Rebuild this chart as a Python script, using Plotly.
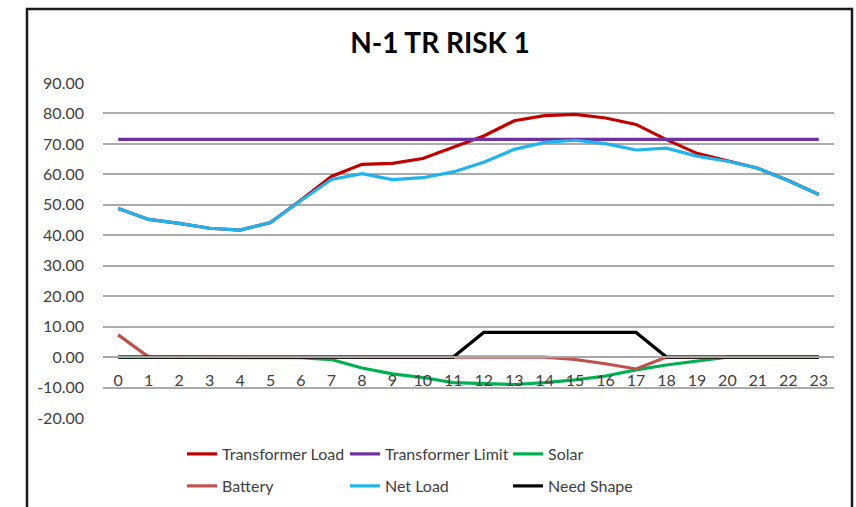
import plotly.graph_objects as go

hours = list(range(24))
tick_labels = [str(h) for h in hours]

transformer_load = [48.8, 45.2, 43.9, 42.3, 41.7, 44.2, 51.6, 59.3, 63.3, 63.6, 65.2, 69.0,
                    72.6, 77.6, 79.3, 79.7, 78.5, 76.4, 71.4, 66.9, 64.5, 62.0, 58.0, 53.4]
transformer_limit = [71.5, 71.5, 71.5, 71.5, 71.5, 71.5, 71.5, 71.5, 71.5, 71.5, 71.5, 71.5,
                     71.5, 71.5, 71.5, 71.5, 71.5, 71.5, 71.5, 71.5, 71.5, 71.5, 71.5, 71.5]
solar = [0, 0, 0, 0, 0, 0, -0.2, -0.8, -3.6, -5.5, -6.7, -8.4,
         -8.6, -9.0, -8.4, -7.5, -6.2, -4.2, -2.6, -1.2, 0, 0, 0, 0]
battery = [7.3, 0, 0, 0, 0, 0, 0, 0, 0, 0, 0, 0,
           0, 0, 0, -0.8, -2.2, -3.9, 0, 0, 0, 0, 0, 0]
net_load = [48.8, 45.2, 43.9, 42.3, 41.7, 44.2, 51.4, 58.3, 60.2, 58.3, 58.9, 60.8,
            64.0, 68.2, 70.5, 71.2, 70.1, 68.0, 68.6, 66.0, 64.3, 62.0, 57.9, 53.4]
need_shape = [0, 0, 0, 0, 0, 0, 0, 0, 0, 0, 0, 0,
              8.1, 8.1, 8.1, 8.1, 8.1, 8.1, 0, 0, 0, 0, 0, 0]

y_ticks = [90, 80, 70, 60, 50, 40, 30, 20, 10, 0, -10, -20]
y_tick_text = ["90.00", "80.00", "70.00", "60.00", "50.00", "40.00", "30.00",
               "20.00", "10.00", "0.00", "-10.00", "-20.00"]

series = [
    ("Transformer Load", transformer_load, "#C00000", "legend"),
    ("Transformer Limit", transformer_limit, "#7030A0", "legend"),
    ("Solar", solar, "#00B050", "legend"),
    ("Battery", battery, "#C0504D", "legend2"),
    ("Net Load", net_load, "#1FB4EE", "legend2"),
    ("Need Shape", need_shape, "#000000", "legend2"),
]

FONT = "Lato, 'Open Sans', sans-serif"

fig = go.Figure()
for name, vals, color, lg in series:
    fig.add_trace(go.Scatter(
        x=hours, y=vals, mode="lines", name=name,
        line=dict(color=color, width=3.2),
        legend=lg,
    ))

W, H = 856, 507
L, R, T, B = 103, 22, 83, 89
pw = W - L - R
ph = H - T - B

def px_x(px):
    return (px - L) / pw

def px_y(py):
    return (H - B - py) / ph

legend_common = dict(
    orientation="h", xanchor="left", yanchor="middle",
    font=dict(family=FONT, size=16, color="#404040"),
    bgcolor="rgba(0,0,0,0)", entrywidth=118, itemwidth=30,
    tracegroupgap=0, borderwidth=0,
)

fig.update_layout(
    width=W, height=H,
    margin=dict(l=L, r=R, t=T, b=B, autoexpand=False),
    paper_bgcolor="white", plot_bgcolor="white",
    font=dict(family=FONT),
    title=dict(text="<b>N-1 TR RISK 1</b>", x=440 / W, xref="container",
               y=1 - 43 / H, xanchor="center", yanchor="middle",
               font=dict(family=FONT, size=28, color="#000000")),
    showlegend=True,
    legend=dict(x=px_x(182), y=px_y(454), **legend_common),
    legend2=dict(x=px_x(182), y=px_y(486), **legend_common),
    xaxis=dict(
        range=[-0.5, 23.5], tickmode="array", tickvals=hours, ticktext=tick_labels,
        anchor="free", position=20 / 110, showgrid=False, zeroline=False,
        showline=True, linecolor="#A6A6A6", linewidth=1.5,
        ticks="", ticklabelstandoff=9,
        tickfont=dict(family=FONT, size=16, color="#404040"),
    ),
    yaxis=dict(
        range=[-20, 90], tickmode="array", tickvals=y_ticks, ticktext=y_tick_text,
        showgrid=True, gridcolor="#ABABAB", gridwidth=1.5, zeroline=False,
        showline=False, ticks="", ticklabelstandoff=18,
        tickfont=dict(family=FONT, size=16, color="#404040"),
    ),
    shapes=[dict(
        type="rect", xref="paper", yref="paper",
        x0=px_x(27), x1=px_x(852), y0=px_y(530), y1=px_y(9),
        line=dict(color="#1a1a1a", width=2.5), fillcolor="rgba(0,0,0,0)", layer="below",
    )],
)

fig.write_html("out.html", config={"displayModeBar": False},
               post_script="document.body.style.margin='0';")
